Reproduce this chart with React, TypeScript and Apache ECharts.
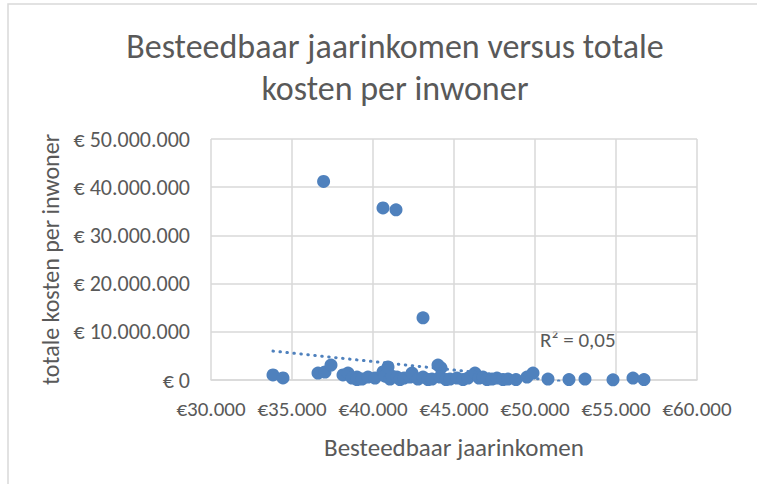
import React, { useEffect, useRef } from "react";
import * as echarts from "echarts";

const incomeX: number[] = [
  33827, 34444, 36605, 37037, 37407, 38148, 38457, 38704, 39012, 39012,
  39321, 39691, 40124, 40617, 40741, 40926, 41050, 41173, 41482, 41667,
  41914, 42284, 42408, 42778, 43087, 43395, 43642, 44012, 44198, 44136,
  44507, 44753, 45185, 45556, 45864, 46296, 46543, 46790, 47037, 47346,
  47654, 48025, 48333, 48827, 49506, 49877, 50802, 52099, 53086, 54815,
  56049, 56728, 36950, 40617, 41420, 43087,
];
const costY: number[] = [
  1040000, 420000, 1450000, 1660000, 3100000, 1040000, 1450000, 400000, 600000, 100000,
  200000, 600000, 400000, 1660000, 800000, 2700000, 200000, 800000, 600000, 100000,
  400000, 600000, 1450000, 200000, 600000, 100000, 200000, 3100000, 2500000, 600000,
  100000, 200000, 400000, 100000, 400000, 1450000, 400000, 600000, 100000, 200000,
  400000, 100000, 200000, 100000, 600000, 1450000, 200000, 100000, 200000, 50000,
  400000, 100000, 41200000, 35700000, 35300000, 12900000,
];
const trendX: number[] = [33827, 56728];
const trendY: number[] = [6000000, -2060000];
const xTicks: number[] = [30000, 35000, 40000, 45000, 50000, 55000, 60000];
const yTicks: number[] = [0, 10000000, 20000000, 30000000, 40000000, 50000000];
const rSquared = "R² = 0,05";

const FONT = "Carlito, 'Liberation Sans Narrow', 'Open Sans', sans-serif";
const GREY = "#595959";
const BLUE = "#4f81bd";

function fmtDots(v: number): string {
  return Math.round(v).toString().replace(/\B(?=(\d{3})+(?!\d))/g, ".");
}

export default function App() {
  const ref = useRef<HTMLDivElement>(null);
  useEffect(() => {
    if (!ref.current) return;
    const chart = echarts.init(ref.current, null, { renderer: "svg" });
    const scatterData = incomeX.map((x, i) => [x, costY[i]]);
    const trendData = trendX.map((x, i) => [x, trendY[i]]);
    chart.setOption({
      animation: false,
      backgroundColor: "#ffffff",
      title: {
        text: "Besteedbaar jaarinkomen versus totale\nkosten per inwoner",
        left: 390,
        top: 20,
        textAlign: "center",
        textStyle: {
          fontFamily: FONT,
          fontSize: 34,
          fontWeight: "normal",
          color: GREY,
          lineHeight: 42,
        },
      },
      graphic: [
        {
          type: "rect",
          shape: { x: 8, y: 4, width: 900, height: 700 },
          style: { fill: "none", stroke: "#d9d9d9", lineWidth: 1.5 },
          silent: true,
          z: -1,
        },
        {
          type: "text",
          left: 540,
          top: 329,
          style: {
            text: rSquared,
            fontFamily: FONT,
            fontSize: 21,
            fill: GREY,
          },
        },
      ],
      grid: { left: 211, top: 139, width: 486, height: 241 },
      xAxis: {
        type: "value",
        min: xTicks[0],
        max: xTicks[xTicks.length - 1],
        interval: 5000,
        name: "Besteedbaar jaarinkomen",
        nameLocation: "middle",
        nameGap: 55,
        nameTextStyle: { fontFamily: FONT, fontSize: 25, color: GREY },
        axisLine: { show: true, lineStyle: { color: "#d9d9d9", width: 1.5 } },
        axisTick: { show: false },
        axisLabel: {
          fontFamily: FONT,
          fontSize: 21,
          color: GREY,
          margin: 18,
          formatter: (v: number) => "€" + fmtDots(v),
        },
        splitLine: { show: true, lineStyle: { color: "#d9d9d9", width: 1.5 } },
      },
      yAxis: {
        type: "value",
        min: yTicks[0],
        max: yTicks[yTicks.length - 1],
        interval: 10000000,
        name: "totale kosten per inwoner",
        nameLocation: "middle",
        nameGap: 149,
        nameTextStyle: { fontFamily: FONT, fontSize: 24, color: GREY },
        axisLine: { show: false },
        axisTick: { show: false },
        axisLabel: {
          fontFamily: FONT,
          fontSize: 22,
          color: GREY,
          margin: 21,
          formatter: (v: number) => "€ " + fmtDots(v),
        },
        splitLine: { show: true, lineStyle: { color: "#d9d9d9", width: 1.5 } },
      },
      series: [
        {
          type: "line",
          data: trendData,
          showSymbol: false,
          symbol: "none",
          clip: true,
          lineStyle: { color: BLUE, width: 3, type: [0.5, 6.5], cap: "round" },
          z: 3,
        },
        {
          type: "scatter",
          data: scatterData,
          symbol: "circle",
          symbolSize: 13,
          itemStyle: { color: BLUE, opacity: 1 },
          z: 2,
        },
      ],
    });
    return () => chart.dispose();
  }, []);
  return (
    <div
      ref={ref}
      style={{ position: "fixed", left: 0, top: 0, width: 757, height: 484 }}
    />
  );
}
